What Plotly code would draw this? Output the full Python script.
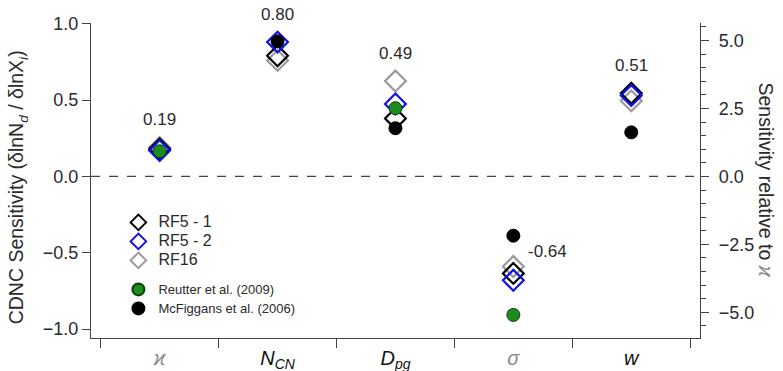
import plotly.graph_objects as go

# ---- data ----
categories = ["<span style='color:#8a8a8a'><i>ϰ</i></span>",
              "<i>N<sub>CN</sub></i>",
              "<i>D<sub>pg</sub></i>",
              "<span style='color:#8a8a8a'><i>σ</i></span>",
              "<i>w</i>"]
x_pos = [0, 1, 2, 3, 4]
rf5_1 = [0.18, 0.79, 0.38, -0.635, 0.545]
rf5_2 = [0.17, 0.88, 0.475, -0.68, 0.53]
rf16 = [0.19, 0.76, 0.625, -0.59, 0.495]
reutter = [0.165, None, 0.447, -0.907, None]
mcfiggans = [None, 0.885, 0.316, -0.388, 0.289]
mean_labels = ["0.19", "0.80", "0.49", "-0.64", "0.51"]
left_ticks = [-1.0, -0.5, 0.0, 0.5, 1.0]
right_ticks = [-5.0, -2.5, 0.0, 2.5, 5.0]
kappa_ref = 0.178

FONT = "Liberation Sans, Arial, sans-serif"
TXT = "#2a2a2a"
AX = "#444444"

fig = go.Figure()

def diamonds(y, color, name, rank):
    fig.add_trace(go.Scatter(
        x=x_pos, y=y, mode="markers", name=f"<span style='font-size:16px'>{name}</span>",
        legendgroup="a", legendrank=rank,
        marker=dict(symbol="diamond-open", size=16, color=color, line=dict(width=2.2, color=color)),
        cliponaxis=False))

def dots(y, fill, edge, name, rank):
    fig.add_trace(go.Scatter(
        x=x_pos, y=y, mode="markers", name=f"<span style='font-size:13px'>{name}</span>",
        legendgroup="b", legendrank=rank,
        marker=dict(symbol="circle", size=13, color=fill, line=dict(width=1, color=edge)),
        cliponaxis=False))

diamonds(rf16, "#9a9a9a", "RF16", 3)
diamonds(rf5_1, "#000000", "RF5 - 1", 1)
diamonds(rf5_2, "#1010ee", "RF5 - 2", 2)
dots(reutter, "#1c8c1c", "#0b3d0b", "Reutter et al. (2009)", 4)
dots(mcfiggans, "#000000", "#000000", "McFiggans et al. (2006)", 5)

# dummy trace to activate right axis
fig.add_trace(go.Scatter(x=[None], y=[None], yaxis="y2", showlegend=False))

# mean value labels
for i, lab in enumerate(mean_labels):
    top = max(v for v in (rf5_1[i], rf5_2[i], rf16[i]))
    if lab.startswith("-"):
        fig.add_annotation(x=x_pos[i], y=top, text=lab, showarrow=False,
                           xanchor="left", yanchor="middle", xshift=13, yshift=15,
                           font=dict(family=FONT, size=17, color=TXT))
    else:
        fig.add_annotation(x=x_pos[i], y=top, text=lab, showarrow=False,
                           xanchor="center", yanchor="middle", yshift=28,
                           font=dict(family=FONT, size=17, color=TXT))

# zero dashed line
fig.add_shape(type="line", xref="paper", x0=0, x1=1, yref="y", y0=0, y1=0,
              line=dict(color=AX, width=1.2, dash="dash"))

# axis titles
fig.add_annotation(xref="paper", yref="paper", x=-0.12, y=0.478, textangle=-90,
                   xanchor="center", yanchor="middle",
                   text="CDNC Sensitivity (δlnN<sub><i>d</i></sub> / δlnX<sub><i>i</i></sub>)",
                   showarrow=False, font=dict(family=FONT, size=19.5, color=TXT))
fig.add_annotation(xref="paper", yref="paper", x=1.11, y=0.50, textangle=90,
                   xanchor="center", yanchor="middle",
                   text="Sensitivity relative to <span style='color:#8a8a8a'><i>ϰ</i></span>",
                   showarrow=False, font=dict(family=FONT, size=19.5, color=TXT))

yl = [-1.058, 1.005]
fig.update_layout(
    width=783, height=371, margin=dict(l=91, r=83, t=23, b=33, autoexpand=False),
    template="none", plot_bgcolor="white", paper_bgcolor="white",
    font=dict(family=FONT, size=18, color=TXT),
    xaxis=dict(range=[-0.582, 4.583], tickvals=x_pos, ticktext=categories,
               ticks="outside", ticklen=2, tickcolor="rgba(0,0,0,0)",
               tickfont=dict(size=20, color="#111111"),
               showline=True, linecolor=AX, linewidth=1.3, showgrid=False, zeroline=False,
               automargin=False,
               minor=dict(tickvals=[-0.5, 0.5, 1.5, 2.5, 3.5, 4.5], ticks="outside",
                          ticklen=9, tickcolor=AX, tickwidth=1.3, showgrid=False)),
    yaxis=dict(range=yl, tickvals=left_ticks, tickformat=".1f", ticks="outside", ticklen=8,
               tickcolor=AX, tickwidth=1.3, showline=True, linecolor=AX, linewidth=1.3,
               showgrid=False, zeroline=False, automargin=False,
               tickfont=dict(size=18, color=TXT)),
    yaxis2=dict(range=[yl[0] / kappa_ref, yl[1] / kappa_ref], overlaying="y", side="right",
                tickvals=right_ticks, tickformat=".1f", ticks="outside", ticklen=8,
                tickcolor=AX, tickwidth=1.3, showline=True, linecolor=AX, linewidth=1.3,
                showgrid=False, zeroline=False, automargin=False,
                ticklabelstandoff=6,
                tickfont=dict(size=18, color=TXT),
                minor=dict(dtick=0.5, ticks="outside", ticklen=5, tickcolor=AX, tickwidth=1.2,
                           showgrid=False)),
    showlegend=True,
    legend=dict(x=0.045, y=0.413, xanchor="left", yanchor="top", bgcolor="rgba(0,0,0,0)",
                itemsizing="constant", tracegroupgap=10,
                font=dict(family=FONT, size=12, color=TXT)),
)

fig.write_html("out.html")
